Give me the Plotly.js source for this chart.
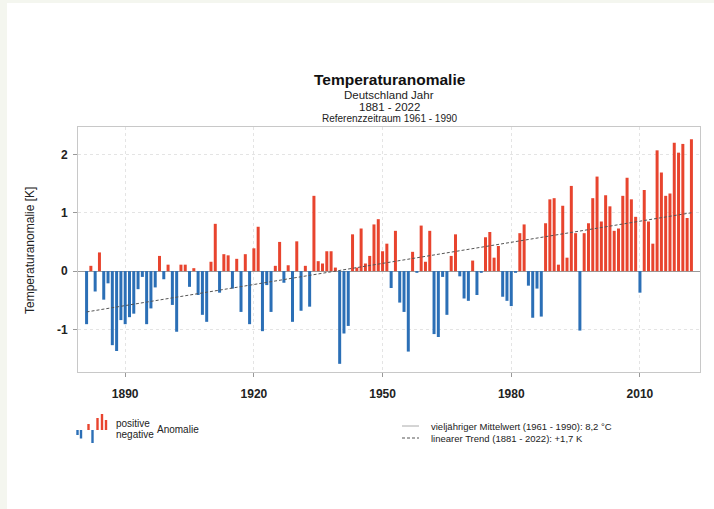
<!DOCTYPE html>
<html><head><meta charset="utf-8">
<script src="https://cdn.plot.ly/plotly-3.0.1.min.js"></script>
<style>
html,body{margin:0;padding:0;background:#f4f6ef;width:714px;height:509px;overflow:hidden}
#chart{position:absolute;left:7px;top:3px;width:707px;height:506px;background:#fff}
</style>
</head><body><div id="chart"></div>
<script>
const years = [
 1881,1882,1883,1884,1885,1886,1887,1888,1889,1890,
 1891,1892,1893,1894,1895,1896,1897,1898,1899,1900,
 1901,1902,1903,1904,1905,1906,1907,1908,1909,1910,
 1911,1912,1913,1914,1915,1916,1917,1918,1919,1920,
 1921,1922,1923,1924,1925,1926,1927,1928,1929,1930,
 1931,1932,1933,1934,1935,1936,1937,1938,1939,1940,
 1941,1942,1943,1944,1945,1946,1947,1948,1949,1950,
 1951,1952,1953,1954,1955,1956,1957,1958,1959,1960,
 1961,1962,1963,1964,1965,1966,1967,1968,1969,1970,
 1971,1972,1973,1974,1975,1976,1977,1978,1979,1980,
 1981,1982,1983,1984,1985,1986,1987,1988,1989,1990,
 1991,1992,1993,1994,1995,1996,1997,1998,1999,2000,
 2001,2002,2003,2004,2005,2006,2007,2008,2009,2010,
 2011,2012,2013,2014,2015,2016,2017,2018,2019,2020,
 2021,2022];
const anomalies = [
 -0.91,0.09,-0.35,0.32,-0.49,-0.21,-1.27,-1.37,-0.84,-0.91,
 -0.79,-0.73,-0.31,-0.10,-0.91,-0.64,-0.28,0.26,-0.14,0.11,
 -0.58,-1.04,0.11,0.11,-0.27,0.05,-0.41,-0.75,-0.87,0.16,
 0.81,-0.37,0.29,0.27,-0.30,0.21,-0.70,0.29,-0.91,0.39,
 0.76,-1.03,-0.24,-0.70,0.09,0.50,-0.20,0.10,-0.87,0.51,
 -0.68,0.09,-0.61,1.29,0.17,0.13,0.34,0.34,0.06,-1.59,
 -1.07,-0.94,0.63,0.06,0.73,0.13,0.26,0.80,0.89,0.34,
 0.47,-0.29,0.69,-0.54,-0.70,-1.38,0.33,-0.03,0.78,0.16,
 0.69,-1.08,-1.13,-0.10,-0.75,0.26,0.63,-0.09,-0.47,-0.51,
 0.18,-0.41,-0.03,0.58,0.67,0.23,0.43,-0.44,-0.51,-0.60,
 -0.03,0.65,0.80,-0.25,-0.80,-0.30,-0.78,0.82,1.23,1.25,
 0.11,1.12,0.23,1.46,0.65,-1.02,0.65,0.82,1.25,1.62,
 0.85,1.30,1.11,0.69,0.73,1.29,1.60,1.23,0.93,-0.37,
 1.39,0.85,0.47,2.07,1.69,1.29,1.33,2.20,2.03,2.18,
 0.91,2.26];
const trendYears = [1881, 2022];
const trendValues = [-0.70, 1.00];
const xTicks = [1890, 1920, 1950, 1980, 2010];
const yTicks = [-1, 0, 1, 2];
const yTickLabels = ['-1', '0', '1', '2'];

const RED = '#e8442e', BLUE = '#2b6fb6';
const FONT = 'Liberation Sans, Arial, Helvetica, sans-serif';

// page pixel -> paper coords (plot area: x 78..700, y 127..372 on page)
const px = X => (X - 78) / 622;
const py = Y => (372 - Y) / 245;

const traces = [
  {type:'bar', x:years, y:anomalies,
   marker:{color:anomalies.map(v => v >= 0 ? RED : BLUE), line:{width:0}},
   hoverinfo:'skip'},
  {type:'scatter', mode:'lines', x:trendYears, y:trendValues,
   line:{color:'#555', width:1, dash:'3px,2px'}, hoverinfo:'skip'}
];

function ann(text, X, Y, size, opts) {
  return Object.assign({text:text, xref:'paper', yref:'paper', x:px(X), y:py(Y),
    showarrow:false, xanchor:'center', yanchor:'middle',
    font:{family:FONT, size:size, color:'#222'}}, opts || {});
}

const annotations = [
  ann('<b>Temperaturanomalie</b>', 390, 80, 15.5, {font:{family:FONT,size:15.5,color:'#111'}}),
  ann('Deutschland Jahr', 389, 94.5, 11.5),
  ann('1881 - 2022', 389, 107.5, 11.5),
  ann('Referenzzeitraum 1961 - 1990', 390, 118.5, 10),
  ann('Temperaturanomalie [K]', 30, 250, 12, {textangle:-90}),
  ann('positive', 114, 423, 10, {xanchor:'left'}),
  ann('negative', 114, 434, 10, {xanchor:'left'}),
  ann('Anomalie', 155, 429, 10, {xanchor:'left'}),
  ann('vieljähriger Mittelwert (1961 - 1990): 8,2 °C', 429, 426, 9.5, {xanchor:'left'}),
  ann('linearer Trend (1881 - 2022): +1,7 K', 429, 438, 9.5, {xanchor:'left'})
];

function rect(x0, x1, y0, y1, c) {
  return {type:'rect', xref:'paper', yref:'paper', x0:px(x0), x1:px(x1), y0:py(y0), y1:py(y1),
    fillcolor:c, line:{width:0}};
}
const shapes = [
  rect(76.3, 78.7, 430, 435, BLUE),
  rect(79.8, 82.2, 430, 438.5, BLUE),
  rect(87.3, 89.7, 424, 430, RED),
  rect(91.3, 93.7, 430, 443, BLUE),
  rect(96.3, 98.7, 418, 430, RED),
  rect(100.8, 103.2, 414, 430, RED),
  rect(104.8, 107.2, 420, 430, RED),
  {type:'line', xref:'paper', yref:'paper', x0:px(402), x1:px(419), y0:py(426), y1:py(426),
   line:{color:'#aaa', width:1}},
  {type:'line', xref:'paper', yref:'paper', x0:px(402), x1:px(419), y0:py(438), y1:py(438),
   line:{color:'#555', width:1, dash:'3px,2px'}}
];

const layout = {
  width:707, height:506,
  margin:{l:71, r:14, t:124, b:137, pad:0},
  paper_bgcolor:'#ffffff', plot_bgcolor:'#ffffff',
  showlegend:false, bargap:0.3,
  font:{family:FONT, color:'#222'},
  xaxis:{range:[1879, 2024], tickmode:'array', tickvals:xTicks, ticktext:xTicks.map(String),
    ticks:'outside', ticklen:4, tickcolor:'#999', tickwidth:1,
    tickfont:{family:FONT, size:12, color:'#222', weight:'bold'}, ticklabelstandoff:7,
    showgrid:true, gridcolor:'#e4e4e4', griddash:'dot', gridwidth:1,
    showline:true, mirror:true, linecolor:'#c8c8c8', linewidth:1, zeroline:false, fixedrange:true},
  yaxis:{range:[-1.73, 2.47], tickmode:'array', tickvals:yTicks, ticktext:yTickLabels,
    ticks:'outside', ticklen:4, tickcolor:'#999', tickwidth:1,
    tickfont:{family:FONT, size:12, color:'#222', weight:'bold'}, ticklabelstandoff:3,
    showgrid:true, gridcolor:'#e4e4e4', griddash:'dot', gridwidth:1,
    showline:true, mirror:true, linecolor:'#c8c8c8', linewidth:1,
    zeroline:true, zerolinecolor:'#9a9a9a', zerolinewidth:1, fixedrange:true},
  annotations:annotations,
  shapes:shapes
};

Plotly.newPlot('chart', traces, layout, {displayModeBar:false, staticPlot:true});
</script>
</body></html>
